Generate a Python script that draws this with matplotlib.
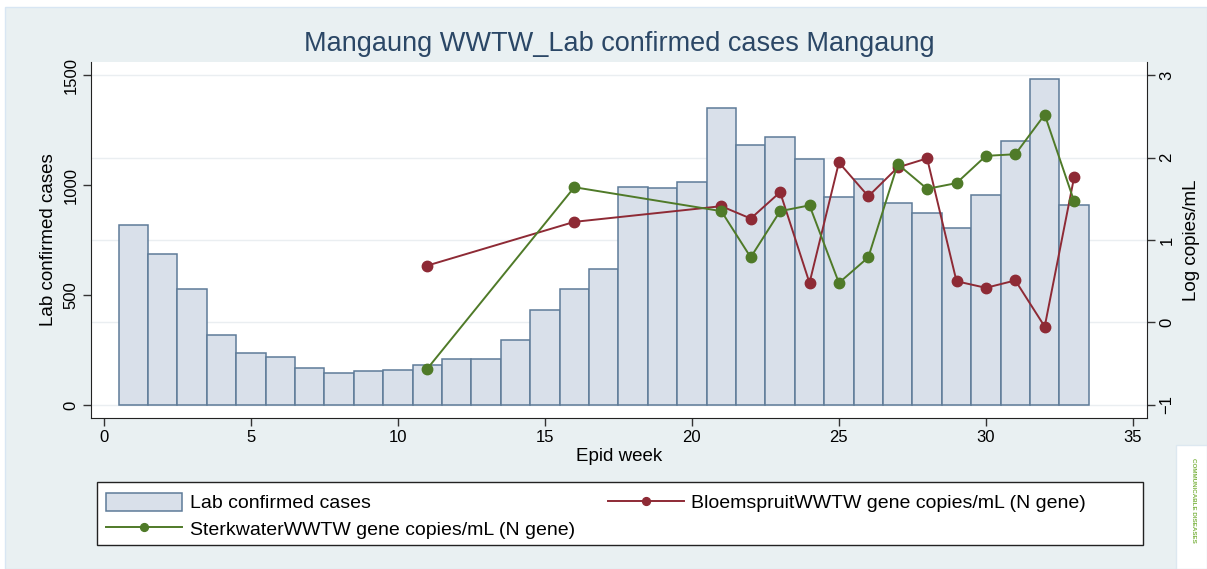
import numpy as np
import matplotlib.pyplot as plt
from matplotlib.patches import Rectangle

plt.rcParams['font.family'] = ['Liberation Sans', 'DejaVu Sans']

# weekly lab confirmed cases (epid weeks 1-33)
weeks = list(range(1, 34))
cases = [820, 686, 526, 320, 238, 220, 166, 147, 153, 160, 181, 207, 207, 294,
         432, 526, 619, 992, 986, 1012, 1352, 1184, 1219, 1119, 947, 1027, 918,
         872, 805, 953, 1198, 1483, 908]

# wastewater sampling weeks and log copies/mL
ww_weeks = [11, 16, 21, 22, 23, 24, 25, 26, 27, 28, 29, 30, 31, 32, 33]
bloem = [0.69, 1.22, 1.41, 1.26, 1.58, 0.48, 1.94, 1.53, 1.88, 1.99, 0.50, 0.42, 0.51, -0.05, 1.76]
sterk = [-0.56, 1.64, 1.35, 0.79, 1.35, 1.42, 0.48, 0.79, 1.92, 1.62, 1.69, 2.02, 2.04, 2.52, 1.47]

left_ticks = [0, 500, 1000, 1500]
right_ticks = [-1, 0, 1, 2, 3]
x_ticks = [0, 5, 10, 15, 20, 25, 30, 35]

bg = '#e9f0f2'
bar_fill = '#d9e0ea'
bar_edge = '#5e7b98'
red = '#8e2a35'
green = '#4f7a28'

fig = plt.figure(figsize=(12.07, 5.69), dpi=100)
fig.patch.set_facecolor('white')
fig.patches.append(Rectangle((0.004, 0), 0.996, 0.988, transform=fig.transFigure,
                             facecolor=bg, edgecolor='#d8e6f3', lw=1, zorder=-10))

ax = fig.add_axes([0.0754, 0.2654, 0.8749, 0.6256])
ax.set_facecolor('white')
ax2 = ax.twinx()

r_lim = (-1.158, 3.158)
scale = 375.0  # left units per right unit (0..1500 <-> -1..3)
ax2.set_ylim(r_lim)
ax.set_ylim((r_lim[0] + 1) * scale, (r_lim[1] + 1) * scale)
ax.set_xlim(-0.44, 35.48)

# gridlines at right axis ticks, behind bars
for t in right_ticks:
    ax.axhline((t + 1) * scale, color='#eaeef1', lw=1, zorder=0)

ax.bar(weeks, cases, width=1.0, color=bar_fill, edgecolor=bar_edge, lw=1.1, zorder=2,
       label='Lab confirmed cases')
l1, = ax2.plot(ww_weeks, bloem, '-o', color=red, lw=1.4, ms=7.5,
               label='BloemspruitWWTW gene copies/mL (N gene)')
l2, = ax2.plot(ww_weeks, sterk, '-o', color=green, lw=1.4, ms=7.5,
               label='SterkwaterWWTW gene copies/mL (N gene)')

ax.set_yticks(left_ticks)
ax2.set_yticks(right_ticks)
ax.set_xticks(x_ticks)
for a in (ax, ax2):
    a.tick_params(axis='both', labelsize=12, length=6, width=1, color='#333333', pad=3)
    a.spines['top'].set_visible(False)
for lab in ax.get_yticklabels() + ax2.get_yticklabels():
    lab.set_rotation(90)
    lab.set_va('center')
ax.spines['right'].set_visible(False)
ax2.spines['left'].set_visible(False)
ax2.spines['bottom'].set_visible(False)
for s in ['left', 'bottom']:
    ax.spines[s].set_color('#222222')
ax2.spines['right'].set_color('#222222')

ax.set_xlabel('Epid week', fontsize=13.5, labelpad=2)
ax.set_ylabel('Lab confirmed cases', fontsize=13.5, labelpad=5)
ax2.set_ylabel('Log copies/mL', fontsize=13.5, labelpad=6, rotation=90)

fig.text(0.513, 0.922, 'Mangaung WWTW_Lab confirmed cases Mangaung', ha='center',
         va='center', fontsize=19.5, color='#2b4766')

# legend frame drawn separately so the columns can sit like the original
fig.patches.append(Rectangle((0.0804, 0.0422), 0.8666, 0.1107, transform=fig.transFigure,
                             facecolor='white', edgecolor='#222222', lw=1, zorder=1))
h0, lab0 = ax.get_legend_handles_labels()
handles = [h0[0], l2, l1]
labels = [lab0[0], l2.get_label(), l1.get_label()]
leg = fig.legend(handles, labels, ncol=2, loc='upper left',
                 bbox_to_anchor=(0.0878, 0.134), fontsize=14,
                 frameon=False, handlelength=3.9, handleheight=1.05,
                 handletextpad=0.4, labelspacing=0.36, borderaxespad=0,
                 borderpad=0, columnspacing=1.7, markerscale=0.75)

# small logo box bottom right
fig.patches.append(Rectangle((0.974, 0.0), 0.026, 0.218, transform=fig.transFigure,
                             facecolor='white', edgecolor='#dde8f0', lw=1))
fig.text(0.989, 0.12, 'COMMUNICABLE DISEASES', rotation=270, ha='center', va='center',
         fontsize=4.5, color='#7cb342', fontweight='bold')

fig.savefig('out.png', dpi=100, facecolor=fig.get_facecolor())
